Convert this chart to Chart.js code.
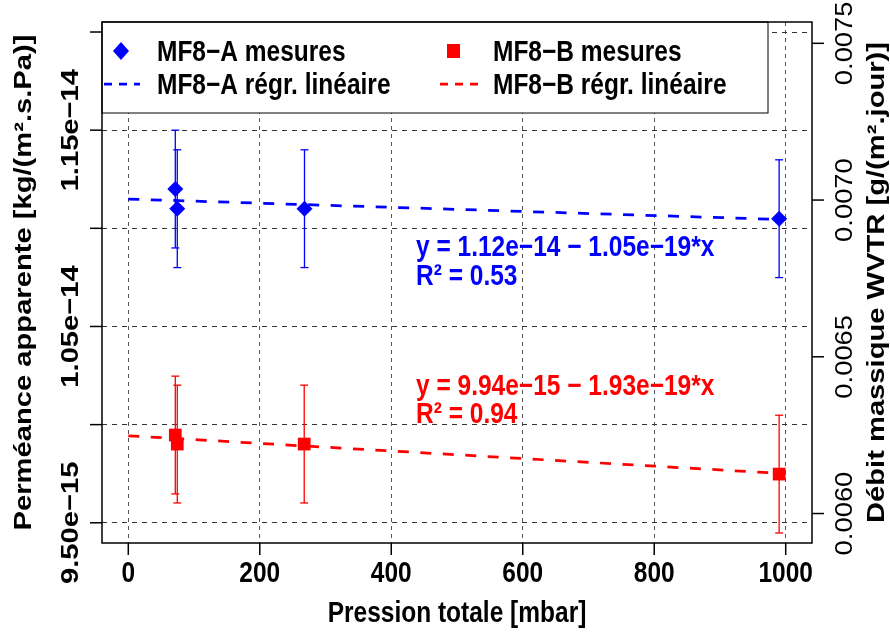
<!DOCTYPE html>
<html>
<head>
<meta charset="utf-8">
<title>MF8 perméance</title>
<script src="https://cdn.jsdelivr.net/npm/chart.js@4.4.1/dist/chart.umd.min.js"></script>
<style>
  html, body { margin: 0; padding: 0; background: #fff; }
  #wrap { width: 890px; height: 632px; }
</style>
</head>
<body>
<div id="wrap"><canvas id="perm-chart" width="890" height="632"></canvas></div>
<script>
(function () {
    "use strict";

    // Data (x = pression totale, y = perméance on the left axis)
    var xA = [71.5, 74.5, 268, 990];
    var permA = [1.1200e-14, 1.1100e-14, 1.1100e-14, 1.1049e-14];
    var errA = [3.0e-16, 3.0e-16, 3.0e-16, 3.0e-16];

    var xB = [71.5, 74.5, 267.6, 990];
    var permB = [9.947e-15, 9.901e-15, 9.901e-15, 9.748e-15];
    var errB = [3.0e-16, 3.0e-16, 3.0e-16, 3.0e-16];

    // Regression lines, read at both ends
    var regX = [0, 1000];
    var regA = [1.1149e-14, 1.1044e-14];
    var regB = [9.943e-15, 9.750e-15];

    // Axes
    var xTicks = [0, 200, 400, 600, 800, 1000];
    var yTicks = [9.5e-15, 1.0e-14, 1.05e-14, 1.1e-14, 1.15e-14, 1.2e-14];
    var yLabels = ["9.50e\u221215", "", "1.05e\u221214", "", "1.15e\u221214", ""];
    var y2Ticks = [0.0060, 0.0065, 0.0070, 0.0075];
    var y2Labels = ["0.0060", "0.0065", "0.0070", "0.0075"];

    var legendLabels = ["MF8\u2212A mesures", "MF8\u2212B mesures",
                        "MF8\u2212A r\u00e9gr. lin\u00e9aire", "MF8\u2212B r\u00e9gr. lin\u00e9aire"];
    var eqA = ["y = 1.12e\u221214 \u2212 1.05e\u221219*x", "R\u00b2 = 0.53"];
    var eqB = ["y = 9.94e\u221215 \u2212 1.93e\u221219*x", "R\u00b2 = 0.94"];

    var BLUE = "#0000ff", RED = "#ff0000";
    var BOLD = "bold 24.5px 'Liberation Sans', Arial, sans-serif";
    var REG = "23px 'Liberation Sans', Arial, sans-serif";
    var SY = 1.19; // the original text is a bit taller than wide

    function pts(xs, ys) {
        return xs.map(function (x, i) { return {x: x, y: ys[i]}; });
    }

    function txt(ctx, s, x, y, font, color, align, rot) {
        ctx.save();
        ctx.translate(x, y);
        ctx.scale(1, SY);
        if (rot) ctx.rotate(-Math.PI / 2);
        ctx.font = font;
        ctx.fillStyle = color;
        ctx.textAlign = align || "center";
        ctx.textBaseline = "alphabetic";
        ctx.fillText(s, 0, 0);
        ctx.restore();
    }

    function line(ctx, x1, y1, x2, y2) {
        ctx.beginPath();
        ctx.moveTo(x1, y1);
        ctx.lineTo(x2, y2);
        ctx.stroke();
    }

    // Error bars
    function errBars(ctx, sx, sy, xs, ys, es, color) {
        ctx.save();
        ctx.strokeStyle = color;
        ctx.lineWidth = 1.3;
        for (var i = 0; i < xs.length; i++) {
            var px = sx.getPixelForValue(xs[i]);
            var p1 = sy.getPixelForValue(ys[i] + es[i]);
            var p2 = sy.getPixelForValue(ys[i] - es[i]);
            line(ctx, px, p1, px, p2);
            line(ctx, px - 4, p1, px + 4, p1);
            line(ctx, px - 4, p2, px + 4, p2);
        }
        ctx.restore();
    }

    var rPlot = {
        id: "rPlot",
        beforeDatasetsDraw: function (chart) {
            var ctx = chart.ctx, s = chart.scales;
            errBars(ctx, s.x, s.y, xA, permA, errA, BLUE);
            errBars(ctx, s.x, s.y, xB, permB, errB, RED);
        },
        afterDatasetsDraw: function (chart) {
            var ctx = chart.ctx, a = chart.chartArea, s = chart.scales;
            var midY = (a.top + a.bottom) / 2, midX = (a.left + a.right) / 2;

            // Legend box
            var lx2 = 768, ly2 = 113;
            ctx.save();
            ctx.fillStyle = "#fff";
            ctx.fillRect(a.left, a.top, lx2 - a.left, ly2 - a.top);
            ctx.strokeStyle = "#000";
            ctx.lineWidth = 1;
            ctx.strokeRect(a.left, a.top, lx2 - a.left, ly2 - a.top);

            ctx.fillStyle = BLUE;
            ctx.beginPath();
            ctx.moveTo(121, 42); ctx.lineTo(129, 51); ctx.lineTo(121, 60); ctx.lineTo(113, 51);
            ctx.closePath();
            ctx.fill();
            ctx.fillStyle = RED;
            ctx.fillRect(447, 44, 13, 14);

            ctx.lineWidth = 2.75;
            ctx.setLineDash([8, 7]);
            ctx.strokeStyle = BLUE;
            line(ctx, 104, 84, 140, 84);
            ctx.strokeStyle = RED;
            line(ctx, 440, 84, 478, 84);
            ctx.restore();

            txt(ctx, legendLabels[0], 157, 61, BOLD, "#000", "left");
            txt(ctx, legendLabels[1], 493, 61, BOLD, "#000", "left");
            txt(ctx, legendLabels[2], 157, 94, BOLD, "#000", "left");
            txt(ctx, legendLabels[3], 493, 94, BOLD, "#000", "left");

            // Regression equations
            txt(ctx, eqA[0], 416, 256, BOLD, BLUE, "left");
            txt(ctx, eqA[1], 416, 285, BOLD, BLUE, "left");
            txt(ctx, eqB[0], 416, 395, BOLD, RED, "left");
            txt(ctx, eqB[1], 416, 423, BOLD, RED, "left");

            // Box and tick marks
            ctx.save();
            ctx.strokeStyle = "#000";
            ctx.lineWidth = 1.5;
            ctx.strokeRect(a.left, a.top, a.right - a.left, a.bottom - a.top);
            xTicks.forEach(function (v) {
                var p = s.x.getPixelForValue(v);
                line(ctx, p, a.bottom, p, a.bottom + 12);
            });
            yTicks.forEach(function (v) {
                var p = s.y.getPixelForValue(v);
                line(ctx, a.left - 12, p, a.left, p);
            });
            y2Ticks.forEach(function (v) {
                var p = s.y2.getPixelForValue(v);
                line(ctx, a.right, p, a.right + 12, p);
            });
            ctx.restore();

            // Tick labels
            xTicks.forEach(function (v) {
                txt(ctx, String(v), s.x.getPixelForValue(v), 582, BOLD, "#000");
            });
            yTicks.forEach(function (v, i) {
                if (yLabels[i]) txt(ctx, yLabels[i], 78, s.y.getPixelForValue(v), BOLD, "#000", "center", true);
            });
            y2Ticks.forEach(function (v, i) {
                txt(ctx, y2Labels[i], 852, s.y2.getPixelForValue(v), REG, "#000", "center", true);
            });

            // Axis titles
            txt(ctx, "Pression totale [mbar]", midX, 622, BOLD, "#000");
            txt(ctx, "Perm\u00e9ance apparente [kg/(m\u00b2.s.Pa)]", 31, midY, BOLD, "#000", "center", true);
            txt(ctx, "D\u00e9bit massique WVTR [g/(m\u00b2.jour)]", 884, midY, BOLD, "#000", "center", true);
        }
    };

    var ctx1 = document.getElementById("perm-chart").getContext("2d");
    var myChart1 = new Chart(ctx1, {
        type: "scatter",
        data: {
            datasets: [{
                    label: legendLabels[0],
                    data: pts(xA, permA),
                    pointStyle: "rectRot",
                    pointRadius: 8,
                    backgroundColor: BLUE,
                    borderColor: BLUE,
                    borderWidth: 0
                },
                {
                    label: legendLabels[1],
                    data: pts(xB, permB),
                    pointStyle: "rect",
                    pointRadius: 9,
                    backgroundColor: RED,
                    borderColor: RED,
                    borderWidth: 0
                },
                {
                    label: legendLabels[2],
                    type: "line",
                    data: pts(regX, regA),
                    borderColor: BLUE,
                    borderWidth: 2.75,
                    borderDash: [11, 11.5],
                    pointRadius: 0,
                    fill: false
                },
                {
                    label: legendLabels[3],
                    type: "line",
                    data: pts(regX, regB),
                    borderColor: RED,
                    borderWidth: 2.75,
                    borderDash: [11, 11.5],
                    pointRadius: 0,
                    fill: false
                }
            ]
        },
        options: {
            responsive: false,
            animation: false,
            devicePixelRatio: 1,
            layout: { padding: { top: 22, left: 0, right: 0, bottom: 0 }, autoPadding: false },
            plugins: { legend: { display: false }, tooltip: { enabled: false } },
            scales: {
                x: {
                    type: "linear",
                    position: "bottom",
                    min: -40,
                    max: 1040,
                    afterBuildTicks: function (sc) { sc.ticks = xTicks.map(function (v) { return {value: v}; }); },
                    afterFit: function (sc) { sc.height = 89; },
                    ticks: { display: false },
                    grid: { color: "#555", lineWidth: 1, drawTicks: false, tickLength: 0 },
                    border: { display: false, dash: [4, 4] }
                },
                y: {
                    type: "linear",
                    position: "left",
                    min: 9.397e-15,
                    max: 1.2051e-14,
                    afterBuildTicks: function (sc) { sc.ticks = yTicks.map(function (v) { return {value: v}; }); },
                    afterFit: function (sc) { sc.width = 102; },
                    ticks: { display: false },
                    grid: { color: "#333", lineWidth: 1, drawTicks: false, tickLength: 0 },
                    border: { display: false, dash: [5, 5] }
                },
                y2: {
                    type: "linear",
                    position: "right",
                    min: 0.005906,
                    max: 0.007568,
                    afterBuildTicks: function (sc) { sc.ticks = y2Ticks.map(function (v) { return {value: v}; }); },
                    afterFit: function (sc) { sc.width = 78; },
                    ticks: { display: false },
                    grid: { display: false, drawTicks: false },
                    border: { display: false }
                }
            }
        },
        plugins: [rPlot]
    });

})();
</script>
</body>
</html>
